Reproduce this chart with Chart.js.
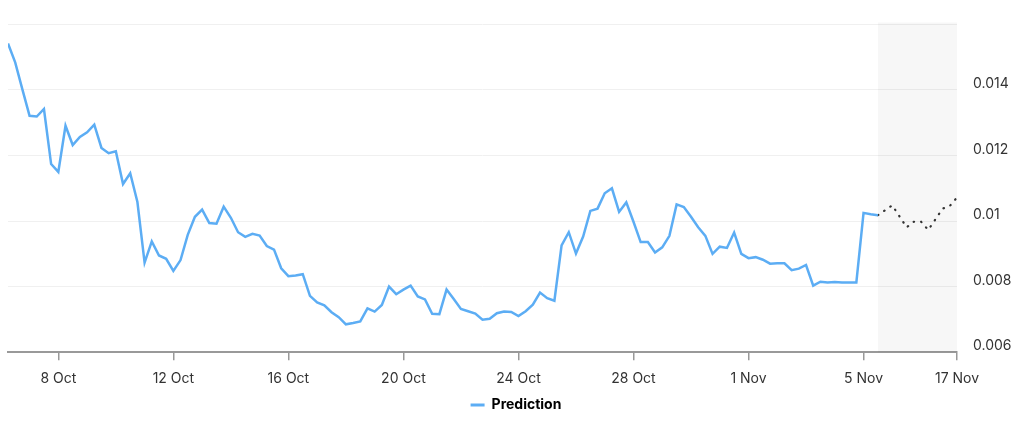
<!DOCTYPE html>
<html lang="en">
<head>
    <meta charset="UTF-8">
    <title>Prediction</title>
    <script src="https://cdn.jsdelivr.net/npm/chart.js"></script>
    <style>
        body { margin: 0; background: #fff; }
        #wrap { width: 1024px; height: 422px; position: relative; }
    </style>
</head>
<body>
<div id="wrap"><canvas id="chart"></canvas></div>
<script>
    // one point every 6 hours, starting 6 Oct 06:00
    const history = [
        0.01542, 0.01484, 0.01402, 0.01321, 0.01319, 0.01342, 0.01174, 0.01150,
        0.01291, 0.01232, 0.01257, 0.01271, 0.01294, 0.01223, 0.01207, 0.01213,
        0.01113, 0.01146, 0.01058, 0.00873, 0.00938, 0.00895, 0.00885, 0.00848,
        0.00881, 0.00958, 0.01013, 0.01035, 0.00994, 0.00992, 0.01044, 0.01010,
        0.00966, 0.00952, 0.00961, 0.00956, 0.00924, 0.00913, 0.00856, 0.00832,
        0.00834, 0.00838, 0.00772, 0.00752, 0.00743, 0.00722, 0.00707, 0.00685,
        0.00689, 0.00694, 0.00734, 0.00724, 0.00744, 0.00800, 0.00777, 0.00791,
        0.00803, 0.00770, 0.00761, 0.00717, 0.00716, 0.00791, 0.00762, 0.00732,
        0.00725, 0.00718, 0.00699, 0.00702, 0.00719, 0.00724, 0.00723, 0.00710,
        0.00725, 0.00745, 0.00782, 0.00765, 0.00757, 0.00926, 0.00966, 0.00901,
        0.00953, 0.01031, 0.01038, 0.01085, 0.01100, 0.01028, 0.01057, 0.00998,
        0.00936, 0.00936, 0.00904, 0.00920, 0.00955, 0.01051, 0.01043, 0.01013,
        0.00981, 0.00955, 0.00900, 0.00922, 0.00918, 0.00965, 0.00900, 0.00887,
        0.00890, 0.00882, 0.00870, 0.00871, 0.00871, 0.00850, 0.00855, 0.00866,
        0.00803, 0.00815, 0.00813, 0.00814, 0.00813, 0.00813, 0.00813, 0.01025,
        0.01021, 0.01018
    ];

    // forecast, placed on the same step index (compressed future range)
    const forecastIdx = [121, 123, 125, 126, 127, 128, 130, 131, 132];
    const forecast = [0.01018, 0.01048, 0.00981, 0.00998, 0.00998, 0.00973, 0.01038, 0.01046, 0.01072];

    const tickIdx = [7, 23, 39, 55, 71, 87, 103, 119, 132];
    const tickLabels = ["8 Oct", "12 Oct", "16 Oct", "20 Oct", "24 Oct", "28 Oct", "1 Nov", "5 Nov", "17 Nov"];

    const yTicks = [0.006, 0.008, 0.01, 0.012, 0.014, 0.016];

    const blue = "#5cadf4";
    const lastIdx = history.length - 1;
    const maxIdx = tickIdx[tickIdx.length - 1];

    const shade = {
        id: "shade",
        beforeDatasetsDraw(chart) {
            const { ctx, chartArea, scales } = chart;
            const x0 = scales.x.getPixelForValue(lastIdx);
            ctx.save();
            ctx.fillStyle = "rgba(0,0,0,0.03)";
            ctx.fillRect(x0, chartArea.top - 2, chartArea.right - x0, chartArea.bottom - chartArea.top + 2);
            ctx.restore();
        }
    };

    Chart.defaults.font.family = "Inter, 'Noto Sans', sans-serif";
    Chart.defaults.font.size = 14;
    Chart.defaults.color = "#333";

    new Chart(document.getElementById("chart"), {
        type: "line",
        data: {
            datasets: [{
                label: "Prediction",
                data: history.map((v, i) => ({ x: i, y: v })),
                borderColor: blue,
                backgroundColor: blue,
                borderWidth: 2.5,
                pointRadius: 0,
                tension: 0
            }, {
                label: "forecast",
                data: forecastIdx.map((x, i) => ({ x: x, y: forecast[i] })),
                borderColor: "#333",
                borderWidth: 2.2,
                borderDash: [0.5, 7],
                borderCapStyle: "round",
                pointRadius: 0,
                tension: 0
            }]
        },
        options: {
            responsive: true,
            maintainAspectRatio: false,
            animation: false,
            layout: { padding: { left: 8, top: 20, right: 0, bottom: 0 } },
            plugins: {
                tooltip: { enabled: false },
                legend: {
                    position: "bottom",
                    labels: {
                        font: { weight: "bold", size: 14 },
                        color: "#333",
                        boxWidth: 14,
                        boxHeight: 3,
                        padding: 1,
                        generateLabels: () => [{
                            text: "Prediction", fillStyle: blue, strokeStyle: blue,
                            lineWidth: 0, datasetIndex: 0
                        }]
                    }
                }
            },
            scales: {
                x: {
                    type: "linear",
                    min: 0,
                    max: maxIdx,
                    afterBuildTicks: axis => {
                        axis.ticks = tickIdx.map(v => ({ value: v }));
                    },
                    ticks: {
                        autoSkip: false,
                        maxRotation: 0,
                        padding: 10,
                        callback: v => tickLabels[tickIdx.indexOf(v)]
                    },
                    grid: {
                        drawOnChartArea: false,
                        drawTicks: true,
                        tickLength: 8,
                        color: "#999",
                        lineWidth: 1.5
                    },
                    border: { color: "#999", width: 2 }
                },
                y: {
                    position: "right",
                    min: 0.006,
                    max: 0.016,
                    afterBuildTicks: axis => {
                        axis.ticks = yTicks.map(v => ({ value: v }));
                    },
                    afterFit: axis => { axis.width = 67; },
                    ticks: {
                        padding: 16,
                        labelOffset: -6,
                        callback: v => v >= 0.016 ? "" : String(+v.toFixed(3))
                    },
                    grid: { color: "#f0f0f0", drawTicks: false },
                    border: { display: false }
                }
            }
        },
        plugins: [shade]
    });
</script>
</body>
</html>
